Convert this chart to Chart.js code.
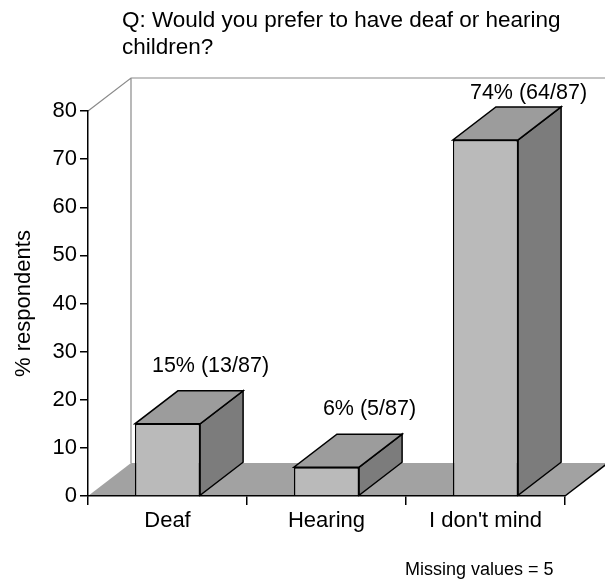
<!DOCTYPE html>
<html>
<head>
<meta charset="utf-8">
<script src="https://cdn.jsdelivr.net/npm/chart.js@4.4.1/dist/chart.umd.min.js"></script>
<style>
  html, body { margin: 0; padding: 0; background: #fff; }
  #wrap { width: 605px; height: 579px; }
</style>
</head>
<body>
<div id="wrap"><canvas id="grafico" width="605" height="579"></canvas></div>
<script>
const categorias = ['Deaf', 'Hearing', "I don't mind"];
const porcentajes = [15, 6, 74];
const respuestas = [13, 5, 64];
const totalRespuestas = 87;
const ticksY = [0, 10, 20, 30, 40, 50, 60, 70, 80];

const FUENTE = '"Liberation Sans", Arial, sans-serif';
const DX = 43, DY = 33; // profundidad 3D

function poly(ctx, pts, fill, stroke) {
    ctx.beginPath();
    ctx.moveTo(pts[0][0], pts[0][1]);
    for (let i = 1; i < pts.length; i++) ctx.lineTo(pts[i][0], pts[i][1]);
    ctx.closePath();
    if (fill) { ctx.fillStyle = fill; ctx.fill(); }
    if (stroke) { ctx.strokeStyle = stroke; ctx.lineWidth = 1.5; ctx.stroke(); }
}

// suelo y pared del fondo
const fondo3D = {
    id: 'fondo3D',
    beforeDraw(chart) {
        const ctx = chart.ctx;
        const a = chart.chartArea;
        ctx.save();
        poly(ctx, [[a.left, a.bottom], [a.right, a.bottom], [a.right + DX, a.bottom - DY], [a.left + DX, a.bottom - DY]], '#a2a2a2', null);
        ctx.strokeStyle = '#000';
        ctx.lineWidth = 1.5;
        ctx.beginPath();
        ctx.moveTo(a.right, a.bottom);
        ctx.lineTo(a.right + DX, a.bottom - DY);
        ctx.stroke();
        // pared
        ctx.strokeStyle = '#8a8a8a';
        ctx.lineWidth = 1.2;
        ctx.beginPath();
        ctx.moveTo(a.left, a.top);
        ctx.lineTo(a.left + DX, a.top - DY);
        ctx.lineTo(chart.width + 5, a.top - DY);
        ctx.moveTo(a.left + DX, a.top - DY);
        ctx.lineTo(a.left + DX, a.bottom - DY);
        ctx.stroke();
        ctx.restore();
    }
};

// caras superior y lateral de las barras + etiquetas
const barras3D = {
    id: 'barras3D',
    afterDatasetsDraw(chart) {
        const ctx = chart.ctx;
        const a = chart.chartArea;
        const meta = chart.getDatasetMeta(0);
        ctx.save();
        meta.data.forEach((bar, i) => {
            const l = bar.x - bar.width / 2, r = bar.x + bar.width / 2;
            const t = bar.y, b = bar.base;
            poly(ctx, [[r, b], [r, t], [r + DX, t - DY], [r + DX, b - DY]], '#7c7c7c', '#000');
            poly(ctx, [[l, t], [r, t], [r + DX, t - DY], [l + DX, t - DY]], '#9c9c9c', '#000');

            const texto = porcentajes[i] + '% (' + respuestas[i] + '/' + totalRespuestas + ')';
            const ty = Math.max(t - DY - 25, a.top - DY + 15);
            ctx.fillStyle = '#000';
            ctx.font = '21.5px ' + FUENTE;
            ctx.textAlign = 'center';
            ctx.textBaseline = 'middle';
            ctx.fillText(texto, bar.x + DX, ty);
        });
        ctx.restore();
    },
    afterDraw(chart) {
        const ctx = chart.ctx;
        ctx.save();
        ctx.fillStyle = '#000';
        ctx.textBaseline = 'middle';
        ctx.textAlign = 'left';
        ctx.font = '22.5px ' + FUENTE;
        ctx.fillText('Q: Would you prefer to have deaf or hearing', 122, 21);
        ctx.fillText('children?', 122, 48);
        ctx.font = '18px ' + FUENTE;
        ctx.fillText('Missing values = 5', 405, 570);
        ctx.restore();
    }
};

new Chart(document.getElementById('grafico'), {
    type: 'bar',
    data: {
        labels: categorias,
        datasets: [{
            data: porcentajes,
            backgroundColor: '#bababa',
            borderColor: '#000',
            borderWidth: 1.5,
            categoryPercentage: 1,
            barPercentage: 0.41
        }]
    },
    options: {
        responsive: false,
        animation: false,
        layout: { padding: { top: 111, right: 40, left: 0, bottom: 0 } },
        plugins: { legend: { display: false }, tooltip: { enabled: false }, title: { display: false } },
        scales: {
            x: {
                offset: true,
                grid: { offset: true, drawOnChartArea: false, drawTicks: true, tickLength: 9, color: '#000', lineWidth: 1.5 },
                border: { color: '#000', width: 1.5 },
                ticks: { color: '#000', font: { family: FUENTE, size: 22 }, padding: 3 },
                afterFit(scale) { scale.height = 83; }
            },
            y: {
                min: 0,
                max: 80,
                afterBuildTicks(scale) { scale.ticks = ticksY.map(v => ({ value: v })); },
                grid: { drawOnChartArea: false, drawTicks: true, tickLength: 8, color: '#000', lineWidth: 1.5 },
                border: { color: '#000', width: 1.5 },
                ticks: { color: '#000', font: { family: FUENTE, size: 22 }, padding: 3 },
                title: { display: true, text: '% respondents', color: '#000', font: { family: FUENTE, size: 22 }, padding: { top: 11, bottom: 0 } },
                afterFit(scale) { scale.width = 88; }
            }
        }
    },
    plugins: [fondo3D, barras3D]
});
</script>
</body>
</html>
